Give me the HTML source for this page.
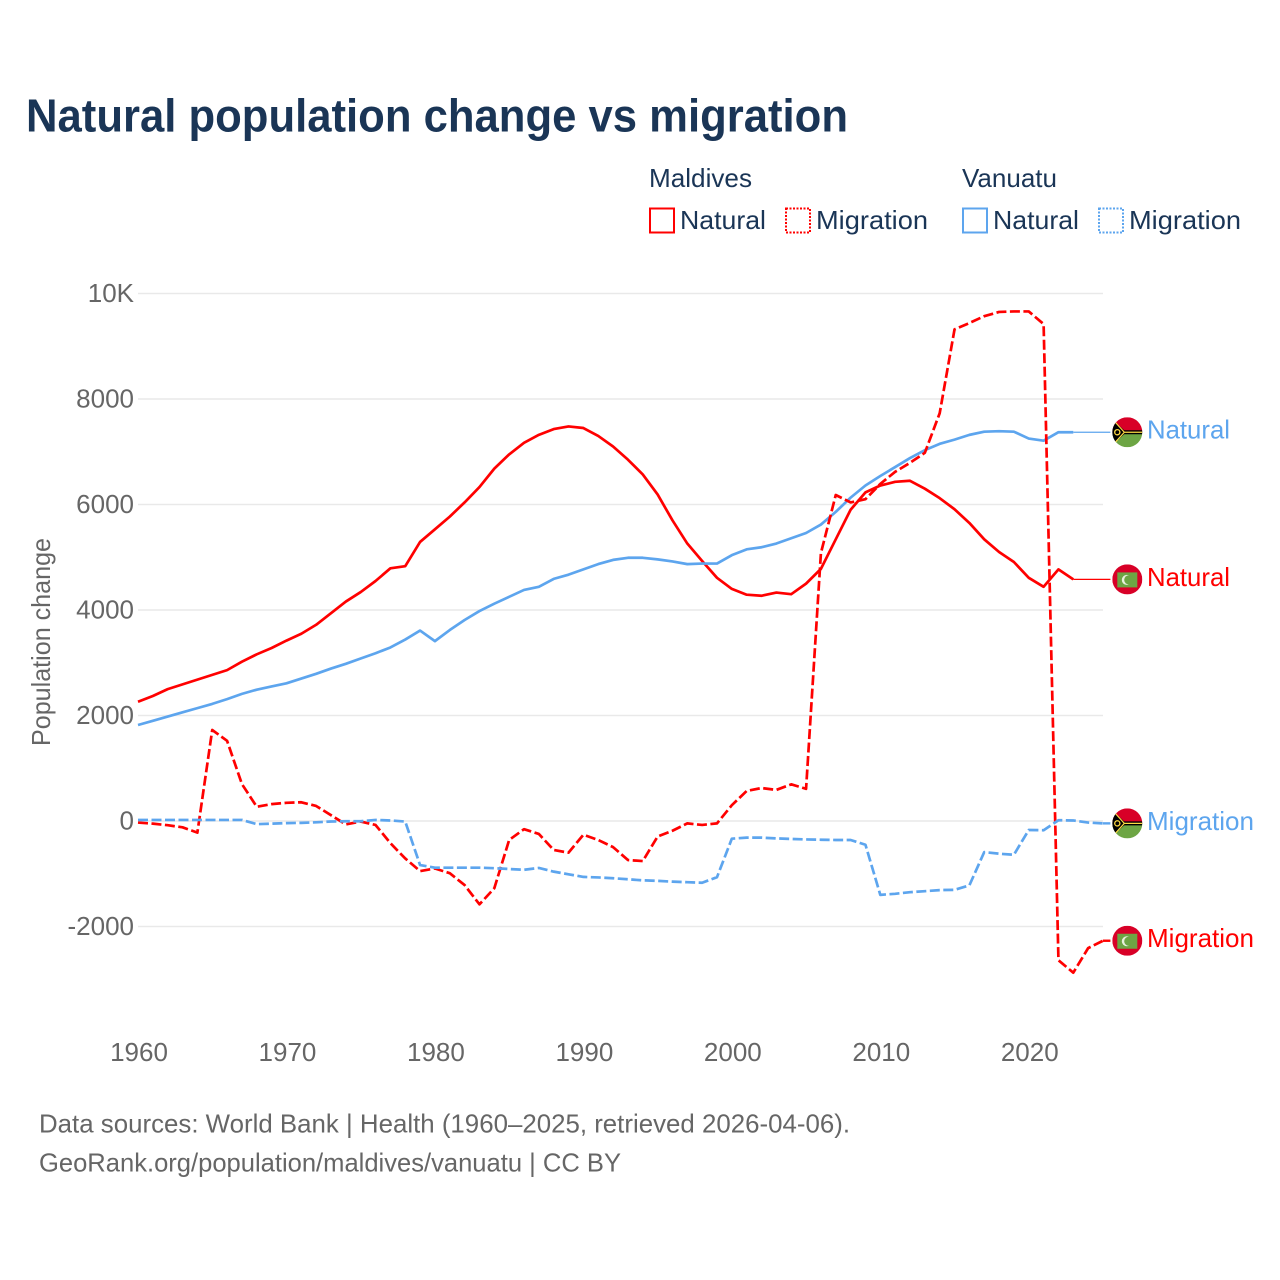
<!DOCTYPE html>
<html lang="en">
<head>
<meta charset="utf-8">
<title>Natural population change vs migration</title>
<style>
html,body{margin:0;padding:0;background:#fff;}
svg{display:block;font-family:"Liberation Sans",sans-serif;}
</style>
</head>
<body>
<svg id="chart" xmlns="http://www.w3.org/2000/svg" width="1280" height="1280" viewBox="0 0 1280 1280">
  <defs>
    <clipPath id="flag-clip"><circle cx="0" cy="0" r="15"/></clipPath>
    <g id="flag-vanuatu" clip-path="url(#flag-clip)">
      <rect x="-15" y="-15" width="30" height="15" fill="#d80027"/>
      <rect x="-15" y="0" width="30" height="15" fill="#6da544"/>
      <rect x="-15" y="-2" width="30" height="4" fill="#000"/>
      <path d="M-15,-13 L-1,0 L-15,13 Z" fill="#000"/>
      <path d="M-12,-10 L-3,0 L-12,10 M-3,0 L15,0" fill="none" stroke="#ffda44" stroke-width="1.2"/>
      <circle cx="-10" cy="0" r="2.6" fill="none" stroke="#ffda44" stroke-width="1.3"/>
    </g>
    <g id="flag-maldives" clip-path="url(#flag-clip)">
      <rect x="-15" y="-15" width="30" height="30" fill="#d80027"/>
      <rect x="-10" y="-7" width="20" height="15" fill="#6da544"/>
      <circle cx="-0.5" cy="0.5" r="5" fill="#e8f0dc"/>
      <circle cx="1.5" cy="0.5" r="4.6" fill="#6da544"/>
    </g>
  </defs>

  <text x="26" y="131.5" font-size="46" font-weight="700" fill="#1a3556" textLength="822" lengthAdjust="spacingAndGlyphs">Natural population change vs migration</text>

  <g>
    <text x="649" y="187" font-size="26" fill="#1a3556" textLength="103" lengthAdjust="spacingAndGlyphs">Maldives</text>
    <text x="962" y="187" font-size="26" fill="#1a3556" textLength="95" lengthAdjust="spacingAndGlyphs">Vanuatu</text>

    <rect x="650" y="208.5" width="24" height="24" fill="none" stroke="#ff0000" stroke-width="2"/>
    <text x="680" y="229" font-size="26" fill="#1a3556" textLength="86" lengthAdjust="spacingAndGlyphs">Natural</text>
    <rect x="786" y="208.5" width="24" height="24" fill="none" stroke="#ff0000" stroke-width="2" stroke-dasharray="2,1.5"/>
    <text x="816" y="229" font-size="26" fill="#1a3556" textLength="112" lengthAdjust="spacingAndGlyphs">Migration</text>

    <rect x="963" y="208.5" width="24" height="24" fill="none" stroke="#5da5ee" stroke-width="2"/>
    <text x="993" y="229" font-size="26" fill="#1a3556" textLength="86" lengthAdjust="spacingAndGlyphs">Natural</text>
    <rect x="1099" y="208.5" width="24" height="24" fill="none" stroke="#5da5ee" stroke-width="2" stroke-dasharray="2,1.5"/>
    <text x="1129" y="229" font-size="26" fill="#1a3556" textLength="112" lengthAdjust="spacingAndGlyphs">Migration</text>
  </g>

  <g id="grid"></g>
  <g id="y-ticks"></g>
  <g id="x-ticks"></g>
  <text transform="translate(50,642) rotate(-90)" text-anchor="middle" font-size="26" fill="#666666" textLength="208" lengthAdjust="spacingAndGlyphs">Population change</text>
  <g id="series"></g>
  <g id="end-labels"></g>

  <text x="39" y="1132.5" font-size="26" fill="#666666" textLength="811" lengthAdjust="spacingAndGlyphs">Data sources: World Bank | Health (1960–2025, retrieved 2026-04-06).</text>
  <text x="39" y="1171.5" font-size="26" fill="#666666" textLength="582" lengthAdjust="spacingAndGlyphs">GeoRank.org/population/maldives/vanuatu | CC BY</text>
</svg>

<script>
const firstYear = 1960;
const yTickValues = [10000, 8000, 6000, 4000, 2000, 0, -2000];
const yTickLabels = ["10K", "8000", "6000", "4000", "2000", "0", "-2000"];
const xTickYears = [1960, 1970, 1980, 1990, 2000, 2010, 2020];

const maldivesNatural = [2260,2370,2500,2590,2680,2770,2860,3020,3160,3280,3420,3550,3720,3940,4160,4340,4550,4790,4830,5290,5530,5770,6040,6330,6680,6950,7170,7320,7430,7480,7450,7300,7100,6850,6570,6190,5700,5260,4930,4610,4400,4290,4270,4330,4300,4500,4780,5340,5900,6230,6360,6430,6450,6300,6120,5910,5650,5340,5100,4910,4610,4440,4770,4580];
const vanuatuNatural = [1820,1900,1980,2060,2140,2220,2310,2410,2490,2550,2610,2700,2790,2890,2980,3080,3180,3290,3440,3610,3410,3620,3810,3980,4120,4250,4380,4440,4590,4670,4770,4870,4950,4990,4990,4960,4920,4870,4880,4880,5040,5150,5190,5260,5360,5460,5620,5860,6130,6360,6540,6710,6880,7030,7150,7230,7320,7380,7390,7380,7250,7210,7370,7370];
const maldivesMigration = [-30,-50,-80,-120,-220,1725,1520,700,270,320,345,355,285,110,-65,-10,-75,-420,-710,-950,-900,-990,-1215,-1580,-1275,-360,-155,-245,-550,-600,-260,-360,-495,-740,-760,-295,-185,-45,-75,-45,300,570,625,590,695,610,5080,6180,6040,6100,6390,6620,6790,6980,7730,9320,9440,9570,9650,9660,9660,9420,-2640,-2875,-2410,-2270];
const vanuatuMigration = [20,20,20,20,20,20,20,20,-60,-50,-40,-35,-25,-10,-5,-5,20,10,-10,-835,-885,-885,-885,-885,-895,-910,-925,-890,-960,-1010,-1060,-1070,-1085,-1105,-1125,-1135,-1150,-1160,-1170,-1065,-335,-315,-315,-330,-340,-350,-355,-360,-360,-450,-1400,-1380,-1350,-1330,-1310,-1305,-1220,-590,-620,-640,-170,-175,15,10,-30,-45];

const NS = "http://www.w3.org/2000/svg";
const RED = "#ff0000";
const BLUE = "#5da5ee";
const GREY = "#666666";

function xScale(year) { return 138 + (year - 1960) * 14.846; }
function yScale(value) { return 821 - value * 0.05275; }

function make(tag, parent) {
  const el = document.createElementNS(NS, tag);
  parent.appendChild(el);
  return el;
}

const gridGroup = document.getElementById("grid");
const yTickGroup = document.getElementById("y-ticks");
yTickValues.forEach(function (v, i) {
  const gridLine = make("line", gridGroup);
  
  
  gridLine.setAttribute("x1", 138);
  gridLine.setAttribute("x2", 1103);
  gridLine.setAttribute("y1", yScale(v));
  gridLine.setAttribute("y2", yScale(v));
  gridLine.setAttribute("stroke", "#e9e9e9");
  gridLine.setAttribute("stroke-width", "1.4");

  const tick = make("text", yTickGroup);
  
  
  tick.setAttribute("x", 134);
  tick.setAttribute("y", yScale(v) + 8.5);
  tick.setAttribute("text-anchor", "end");
  tick.setAttribute("font-size", "26");
  tick.setAttribute("fill", GREY);
  tick.textContent = yTickLabels[i];
});

const xTickGroup = document.getElementById("x-ticks");
xTickYears.forEach(function (year) {
  const tick = make("text", xTickGroup);
  
  
  tick.setAttribute("x", xScale(year) + 1);
  tick.setAttribute("y", 1061);
  tick.setAttribute("text-anchor", "middle");
  tick.setAttribute("font-size", "26");
  tick.setAttribute("fill", GREY);
  tick.textContent = String(year);
});

function pathFor(values) {
  return values.map(function (v, i) {
    return (i ? "L" : "M") + xScale(firstYear + i).toFixed(2) + "," + yScale(v).toFixed(2);
  }).join(" ");
}

const seriesGroup = document.getElementById("series");
const labelGroup = document.getElementById("end-labels");
const connectorYear = 2025.5;

function drawLine(values, color, dashed, name) {
  const line = make("path", seriesGroup);
  
  
  line.setAttribute("d", pathFor(values));
  line.setAttribute("fill", "none");
  line.setAttribute("stroke", color);
  line.setAttribute("stroke-width", "2.7");
  line.setAttribute("stroke-linejoin", "round");
  if (dashed) line.setAttribute("stroke-dasharray", "10,3.5");

  const last = values[values.length - 1];
  const lastYear = firstYear + values.length - 1;
  const connector = make("line", seriesGroup);
  
  
  connector.setAttribute("x1", xScale(lastYear));
  connector.setAttribute("x2", xScale(connectorYear));
  connector.setAttribute("y1", yScale(last));
  connector.setAttribute("y2", yScale(last));
  connector.setAttribute("stroke", color);
  connector.setAttribute("stroke-width", dashed ? "2.4" : "1.2");
}

function drawEnd(values, color, flagId, text, length) {
  const y = yScale(values[values.length - 1]);
  const flag = make("use", labelGroup);
  
  
  flag.setAttribute("href", "#" + flagId);
  flag.setAttribute("transform", "translate(1127.3," + y + ")");

  const label = make("text", labelGroup);
  
  
  label.setAttribute("x", 1147);
  label.setAttribute("y", y + 6.5);
  label.setAttribute("font-size", "26");
  label.setAttribute("fill", color);
  label.setAttribute("textLength", length);
  label.setAttribute("lengthAdjust", "spacingAndGlyphs");
  label.textContent = text;
}

drawLine(maldivesNatural, RED, false, "line-maldives-natural");
drawLine(vanuatuNatural, BLUE, false, "line-vanuatu-natural");
drawLine(maldivesMigration, RED, true, "line-maldives-migration");
drawLine(vanuatuMigration, BLUE, true, "line-vanuatu-migration");

drawEnd(vanuatuNatural, BLUE, "flag-vanuatu", "Natural", 83);
drawEnd(maldivesNatural, RED, "flag-maldives", "Natural", 83);
drawEnd(vanuatuMigration, BLUE, "flag-vanuatu", "Migration", 107);
drawEnd(maldivesMigration, RED, "flag-maldives", "Migration", 107);
</script>
</body>
</html>
